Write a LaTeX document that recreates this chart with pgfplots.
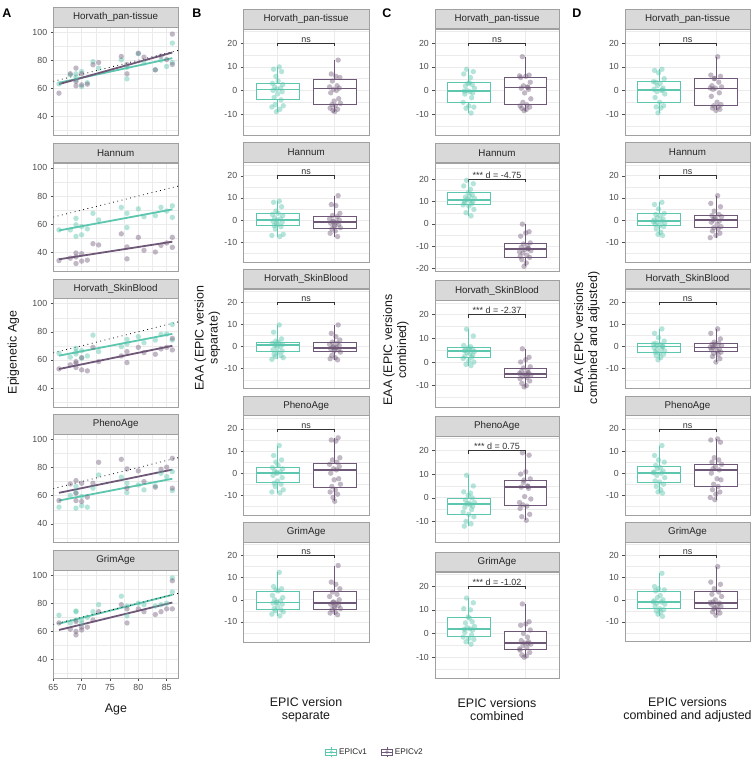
\documentclass[border=0pt]{standalone}
\usepackage{fontspec}
\setmainfont{Liberation Sans}
\usepackage{pgfplots}
\pgfplotsset{compat=1.18}
\usepackage{pgfplotstable}
\usepgfplotslibrary{statistics}

\definecolor{cT}{HTML}{5DC6AE}
\definecolor{cP}{HTML}{6F5877}
\definecolor{gridc}{HTML}{EBEBEB}
\definecolor{borderc}{HTML}{A0A0A0}
\definecolor{stripc}{HTML}{D9D9D9}
\definecolor{tickc}{HTML}{4D4D4D}
\definecolor{brc}{HTML}{333333}

\pgfplotsset{
  base/.style={scale only axis, anchor=south west, clip=true,
    axis line style={draw=borderc, line width=0.6pt},
    tick label style={font=\fontsize{8.8}{9}\selectfont, text=tickc},
    /pgf/number format/assume math mode=true,
    major tick length=2.6pt, minor tick length=0pt,
    tick align=outside, tick pos=left,
    every tick/.style={draw=tickc, line width=0.5pt},
    grid=both,
    major grid style={draw=gridc, line width=0.7pt},
    minor grid style={draw=gridc, line width=0.35pt},
    every axis title/.style={at={(0.5,1)}, anchor=south, fill=stripc, draw=borderc,
      line width=0.6pt, inner sep=0pt, minimum height=19.5pt,
      font=\fontsize{9.8}{10}\selectfont, text=black!85},
  },
  tw/.style={width=#1, every axis title/.append style={minimum width=#1}},
  aax/.style={base, tw=124.7pt, height=108.3pt, xmin=65, xmax=87, ymin=26.5, ymax=103.5,
    xtick={65,70,75,80,85}, minor xtick={67.5,72.5,77.5,82.5},
    ytick={40,60,80,100}, minor ytick={30,50,70,90}},
  noxlab/.style={xticklabels={}, xtick style={draw=none}},
  boxax/.style={base, xmin=0.4, xmax=2.6, xtick={1,2}, xticklabels={}, xtick style={draw=none},
    ymin=-19, ymax=26, ytick={-10,0,10,20}, minor ytick={-15,-5,5,15,25}},
  ptT/.style={only marks, mark=*, mark size=2.7pt, color=cT, mark options={draw opacity=0, fill opacity=0.45}},
  ptP/.style={only marks, mark=*, mark size=2.7pt, color=cP, mark options={draw opacity=0, fill opacity=0.42}},
  lnT/.style={cT, line width=1.8pt, no marks},
  lnP/.style={cP, line width=1.8pt, no marks},
  idl/.style={black, line width=0.8pt, dash pattern=on 0.8pt off 3.6pt, no marks},
  bxT/.style={boxplot prepared={draw position=1, box extend=0.75, whisker extend=0, draw direction=y, #1},
    draw=cT, fill=white, line width=0.75pt, solid, boxplot/every median/.style={line width=1.5pt}},
  bxP/.style={boxplot prepared={draw position=2, box extend=0.75, whisker extend=0, draw direction=y, #1},
    draw=cP, fill=white, line width=0.75pt, solid, boxplot/every median/.style={line width=1.5pt}},
  brk/.style={draw=brc, line width=0.7pt, no marks},
}
\tikzset{brlab/.style={anchor=south, inner sep=0.6pt, font=\fontsize{9}{9}\selectfont, text=brc},
  ytit/.style={rotate=90, align=center, font=\fontsize{12.4}{14}\selectfont, text=black!90},
  xtit/.style={align=center, font=\fontsize{12.4}{13}\selectfont, text=black!90},
  plab/.style={font=\bfseries\fontsize{12.5}{13}\selectfont}}

% ---------- EAA data: jitter x and values (t = EPICv1, p = EPICv2) ----------
% h = Horvath_pan-tissue, n = Hannum, s = Horvath_SkinBlood, p = PhenoAge, g = GrimAge
\pgfplotstableread{
jt   jp   ht   hp    nt   np   st   sp   pt   pp    gt   gp
1.03 2.06 10   12.9  8.5  11   9.8  9.8  12.5 16    12.4 15.5
0.93 1.94 9    7     8    7    6.5  6    8    15    6    8
1.07 2.02 8    6     6    6.5  3.5  4.5  6    14.5  5    7
0.97 2.09 6    5.5   4    3    2.5  3    5    7     4.5  5
1.01 1.96 4    4     3    2    2    2    3.5  6     4    3.5
0.91 2.04 3    2     2.5  1.5  1.5  1.5  2.5  5     2    2.5
1.09 1.91 2.5  1.5   2    0.5  1    1    2    4     1    1.5
0.95 2.08 1.5  1     1    0    0.5  0.5  1    3     0    0
1.05 1.98 1    0.5   0.5  -0.5 0    0    0.5  2     -0.5 -1
0.99 2.03 0.5  0     0    -1   -0.5 -0.5 0    1.5   -1   -1.5
0.92 1.93 0    -1    -0.5 -1.5 -1.5 -1   -1   0     -1.5 -2
1.08 2.07 -0.5 -3.5  -1   -2   -2   -1.5 -2   -2.5  -2   -2.5
1.00 1.99 -1.5 -4.5  -2   -3   -2.5 -2   -3.5 -3    -3   -3
0.94 2.10 -3   -5.5  -2.5 -3.5 -3.5 -2.5 -4.5 -5    -4   -4
1.06 1.95 -4   -6    -3   -4   -4   -4   -5   -6    -4.5 -4.5
0.96 2.01 -6   -6.5  -4   -5   -4.5 -5   -6   -7.5  -5   -5.5
1.10 1.92 -6.5 -7.5  -6.5 -6   -5   -5.5 -7.5 -8.5  -5.5 -6
0.90 2.05 -7   -8    -7   -7.5 -5.8 -6   -8.5 -9.5  -6.5 -6.8
1.04 1.97 -8   -8.5  -7.5 -0.8 1.2  -0.3 -8.9 -11   -7.3 -1.2
0.98 2.00 -9   -9    -1.5 -2.5 0.8  -0.8 0.3  -12.7 -1.2 -3.5
}\Bdata
\pgfplotstableread{
jt   jp   ht   hp    nt    np    st    sp    pt    pp    gt    gp
0.96 1.95 9    14.3  19.5  -0.1  13.9  5.6   9.5   19    15    12.5
1.08 2.07 8    6.5   18    -3.5  11    2     5     18    13    5
0.91 2.01 7    6     17    -4    7     1     2.5   11    10.5  4
1.03 1.92 5.5  5.5   15.5  -5.5  6.5   0     2     10    10    3.5
0.99 2.09 3    3.5   14    -8.5  6     -2    1     8     7     1.5
1.06 1.97 2.5  2     13    -9    5.5   -2.5  0     6.5   5     0
0.94 2.04 2    1.5   12    -10   5     -3.5  -1    5     4.5   -1.5
1.10 1.93 1    1     11.5  -10.5 4.5   -4    -2    4.5   3     -3
0.97 2.06 0    0.5   11    -11   4     -4.5  -2.5  4     2.5   -3.5
1.02 1.99 -0.5 -1    10.5  -11.5 3.5   -5    -3    0.5   2     -4
1.07 2.10 -1   -3.5  10    -12   3     -5.5  -3.5  -0.5  1.5   -4.5
0.93 1.96 -1.5 -5    9.5   -13   2.5   -6    -4    -3    0.5   -5
1.05 2.03 -3   -6    9     -14   2     -6.5  -5    -3.5  -0.5  -6
0.90 1.91 -5   -6.5  8.5   -14.5 1.5   -7    -6    -4.5  -1.5  -7
1.00 2.08 -6.5 -7    8     -15   0.5   -8    -7    -7    -2    -8
1.09 1.94 -7   -7.5  6.5   -16   0     -9    -8    -8    -2.5  -9
0.95 2.02 -7.5 -8    5     -17.5 -1    -10   -10   -9.5  -3.5  -9.5
1.04 1.98 -9.5 -8.5  3.6   -19   -1.5  -10.5 -11   7.5   -4.5  -10
0.92 2.05 -0.2 1.3   10.2  -11.2 4.8   -5.2  -12   4.8   1.8   -4.2
1.01 1.90 3.3  6.2   12.5  -12.5 5.2   -4.8  -2.2  -2    6.5   -6.5
}\Cdata
\pgfplotstableread{
jt   jp   ht   hp    nt   np   st   sp   pt   pp    gt   gp
1.05 2.03 9    14.3  8    11   8    8    12.5 15.5  12   15
0.92 1.91 8.5  6.5   7    7.5  6    6    8    15    6    8
0.99 2.08 7.5  6     5    6    4    3.5  6    14    5    7
1.09 1.97 5    5     3    4    2.5  2    5    7     4.5  5
0.94 2.05 3.5  3.5   2.5  2.5  1.5  1.5  3.5  6     4    3.5
1.02 1.93 3    2     2    2    1    1    2.5  5     2    2.5
0.97 2.10 2    1.5   1    1.5  0.5  0.5  2    4     1    1.5
1.07 1.99 1    1     0.5  0.5  0    0    1    3     0    0
0.91 1.95 0.5  0.5   0    0    -0.5 -0.5 0.5  2     -0.5 -1
1.04 2.06 0    -1    -0.5 -0.5 -1   -1   0    1.5   -1   -1.5
0.96 1.92 -0.5 -2.5  -1   -1   -1.5 -1.5 -1   0     -1.5 -2
1.10 2.02 -1.5 -5    -1.5 -2   -2   -2   -2   -2.5  -2   -2.5
0.93 2.09 -3   -6    -2   -3   -2.5 -2.5 -3.5 -3    -3   -3
1.01 1.96 -5   -6.5  -2.5 -3.5 -3   -3   -4   -5    -4   -4
1.08 2.04 -6.5 -7    -3   -4   -3.5 -3.5 -5   -6    -4.5 -4.5
0.95 1.94 -7   -7.5  -4   -5   -4   -4.5 -6   -7.5  -5   -5.5
1.03 2.07 -7.5 -8    -5.5 -6   -5   -5.5 -7.5 -8.5  -5.5 -6
0.98 2.00 -9.5 -8.5  -6.5 -7   -6   -7   -8.5 -9.5  -6.5 -7
1.06 1.90 0.2  1     -7   -8   0.2  -0.3 -9   -11   -7.5 -1.2
0.90 1.98 3.7  5.1   -0.8 1    1.2  1    0.2  -12   -1   -3.5
}\Ddata

% box panel: #1 axis options, #2 bracket label, #3 EPICv1 stats, #4 EPICv2 stats, #5 table, #6 clock key
\newcommand{\BP}[6]{%
\begin{axis}[boxax,#1]
\addplot[bxT={#3}] coordinates {};
\addplot[bxP={#4}] coordinates {};
\addplot[ptT] table[x=jt, y=#6t] {#5};
\addplot[ptP] table[x=jp, y=#6p] {#5};
\addplot[brk] coordinates {(1,18.7) (1,20) (2,20) (2,18.7)};
\node[brlab] at (axis cs:1.5,20) {#2};
\end{axis}}

% age panel: #1 axis options, #2 EPICv1 points, #3 EPICv2 points, #4 EPICv1 fit, #5 EPICv2 fit
\newcommand{\AP}[5]{%
\begin{axis}[aax,#1]
\addplot[ptT] coordinates {#2};
\addplot[ptP] coordinates {#3};
\addplot[lnT] coordinates {#4};
\addplot[lnP] coordinates {#5};
\addplot[idl] coordinates {(65,65) (87,87)};
\end{axis}}

\begin{document}
\begin{tikzpicture}[x=1pt,y=1pt]
\path[use as bounding box, fill=white] (0,0) rectangle (755,764);

% ================= Column A =================
\AP{at={(53.3pt,628.5pt)}, noxlab, title={Horvath\_pan-tissue}}
{(66,63.2) (68,69.6) (69,70.4) (69,66) (69,68) (70,72) (70,61.3) (71,64) (72,79) (73,74.4) (77,80.3) (78,66.8) (78,75) (80,84.6) (81,78) (83,73.2) (84,80) (85,75.6) (86,92.2) (86,78.4)}
{(66,56.6) (68,70.4) (69,74.4) (69,61.8) (69,64.9) (70,70.4) (70,62.5) (71,63) (72,76.8) (73,78.4) (77,82.7) (78,70.4) (78,77) (80,85) (81,82.2) (83,73.2) (84,83) (85,80.5) (86,98.6) (86,77)}
{(66,64) (86,81.5)}{(66,63) (86,85.5)}

\AP{at={(53.3pt,492.75pt)}, noxlab, title={Hannum}}
{(66,55.9) (68,55.9) (69,64.1) (69,59.5) (69,51.3) (70,58.3) (70,52.4) (71,56.6) (72,67.7) (73,63) (77,71.9) (78,67.7) (78,57.6) (80,70.9) (81,65.3) (83,66) (84,71.9) (85,69.3) (86,73) (86,64.8)}
{(66,34.1) (68,35.8) (69,39.5) (69,36.7) (69,32) (70,39) (70,33.7) (71,34.4) (72,46.1) (73,45.2) (77,53.1) (78,35.3) (78,43.8) (80,50.6) (81,41.4) (83,40.2) (84,44.9) (85,46.6) (86,50.6) (86,43.5)}
{(66,55.5) (86,70.5)}{(66,35) (86,47.5)}

\AP{at={(53.3pt,357pt)}, noxlab, title={Horvath\_SkinBlood}}
{(66,64.7) (68,61.9) (69,68.2) (69,64.2) (69,65.9) (70,66.6) (70,61.2) (71,62.8) (72,77.6) (73,65.9) (77,69.4) (78,74.6) (78,71.3) (80,76.5) (81,72.2) (83,74.1) (84,78.1) (85,78.4) (86,85.2) (86,74.1)}
{(66,53.6) (68,56.5) (69,58.8) (69,54.6) (69,57.6) (70,61.6) (70,52.9) (71,52.2) (72,68.9) (73,58.8) (77,62.8) (78,58.1) (78,65.9) (80,68.9) (81,65.2) (83,64) (84,67.8) (85,68.9) (86,75.3) (86,67.1)}
{(66,63) (86,78.5)}{(66,53.5) (86,70)}

\AP{at={(53.3pt,221.25pt)}, noxlab, title={PhenoAge}}
{(66,51.8) (68,60.1) (69,51.1) (69,62.2) (69,66.5) (70,59.4) (70,52.8) (71,51.8) (72,65.3) (73,74.7) (77,73.1) (78,62.2) (78,68.8) (80,67.6) (81,64.1) (83,66.9) (84,75.9) (85,73.5) (86,77.1) (86,63.6)}
{(66,56.5) (68,68.3) (69,70.7) (69,61.7) (69,56.5) (70,68.8) (70,55.8) (71,58.9) (72,68.8) (73,83.7) (77,85.8) (78,79) (78,65.3) (80,77.6) (81,70) (83,66) (84,78.7) (85,80.2) (86,86.5) (86,65.3)}
{(66,56.5) (86,72)}{(66,62) (86,78.5)}

\AP{at={(53.3pt,85.5pt)}, title={GrimAge}}
{(66,71.5) (68,66) (69,74.5) (69,68) (69,74) (70,66) (70,68) (71,70) (72,74) (73,79) (77,85) (78,71) (78,78) (80,80) (81,79) (83,78) (84,79) (85,80) (86,98) (86,88)}
{(66,66) (68,61.5) (69,57.5) (69,60) (69,67) (70,61) (70,63) (71,63) (72,68) (73,74) (77,79) (78,66) (78,76) (80,76) (81,74) (83,72) (84,74) (85,76) (86,96) (86,76)}
{(66,65.5) (86,86)}{(66,61) (86,80.5)}

% ================= Column B =================
\BP{at={(243.3pt,628.8pt)}, tw=125.7pt, height=106pt, title={Horvath\_pan-tissue}}{ns}
{median=0.5, upper quartile=3, lower quartile=-3.8, upper whisker=10, lower whisker=-9}
{median=0.9, upper quartile=4.9, lower quartile=-5.8, upper whisker=12.9, lower whisker=-9}{\Bdata}{h}
\BP{at={(243.3pt,502pt)}, tw=125.7pt, height=99.5pt, title={Hannum}}{ns}
{median=0.05, upper quartile=3.05, lower quartile=-2.5, upper whisker=8.5, lower whisker=-7.5}
{median=-1, upper quartile=1.85, lower quartile=-3.7, upper whisker=11, lower whisker=-7.5}{\Bdata}{n}
\BP{at={(243.3pt,375.4pt)}, tw=125.7pt, height=99.5pt, title={Horvath\_SkinBlood}}{ns}
{median=0.75, upper quartile=2, lower quartile=-2, upper whisker=9.8, lower whisker=-5.8}
{median=-0.6, upper quartile=1.8, lower quartile=-2, upper whisker=9.8, lower whisker=-6}{\Bdata}{s}
\BP{at={(243.3pt,248.8pt)}, tw=125.7pt, height=99.5pt, title={PhenoAge}}{ns}
{median=0.05, upper quartile=2.75, lower quartile=-4.15, upper whisker=12.5, lower whisker=-8.9}
{median=1.55, upper quartile=4.55, lower quartile=-6.25, upper whisker=16, lower whisker=-12.7}{\Bdata}{p}
\begin{axis}[boxax, at={(243.3pt,122.2pt)}, tw=125.7pt, height=99.5pt, title={GrimAge},
  legend style={at={(1.048,-1.1075)}, anchor=center, draw=none, fill=none,
    font=\fontsize{8.2}{8.5}\selectfont, text=black!85, inner sep=0pt,
    /tikz/every even column/.append style={column sep=12pt}},
  legend columns=2, legend cell align=left]
\addlegendimage{legend image code/.code={
  \draw[cT, line width=0.6pt] (5.5pt,-5pt)--(5.5pt,5pt);
  \draw[cT, line width=0.6pt, fill=white] (0pt,-2.8pt) rectangle (11pt,2.8pt);
  \draw[cT, line width=0.9pt] (0pt,0pt)--(11pt,0pt);
  \fill[cT, opacity=0.5] (5.5pt,0pt) circle (1.6pt);}}
\addlegendentry{EPICv1}
\addlegendimage{legend image code/.code={
  \draw[cP, line width=0.6pt] (5.5pt,-5pt)--(5.5pt,5pt);
  \draw[cP, line width=0.6pt, fill=white] (0pt,-2.8pt) rectangle (11pt,2.8pt);
  \draw[cP, line width=0.9pt] (0pt,0pt)--(11pt,0pt);
  \fill[cP, opacity=0.5] (5.5pt,0pt) circle (1.6pt);}}
\addlegendentry{EPICv2}
\addplot[bxT={median=-1.2, upper quartile=3.8, lower quartile=-4.2, upper whisker=12.4, lower whisker=-7.3}] coordinates {};
\addplot[bxP={median=-1.5, upper quartile=3.6, lower quartile=-4.2, upper whisker=15.5, lower whisker=-6.8}] coordinates {};
\addplot[ptT] table[x=jt, y=gt] {\Bdata};
\addplot[ptP] table[x=jp, y=gp] {\Bdata};
\addplot[brk] coordinates {(1,18.7) (1,20) (2,20) (2,18.7)};
\node[brlab] at (axis cs:1.5,20) {ns};
\end{axis}

% ================= Column C =================
\BP{at={(435pt,628.5pt)}, tw=124pt, height=106.5pt, title={Horvath\_pan-tissue}}{ns}
{median=-0.1, upper quartile=3.3, lower quartile=-5.2, upper whisker=9, lower whisker=-9.5}
{median=1.3, upper quartile=5.6, lower quartile=-6, upper whisker=14.3, lower whisker=-8.5}{\Cdata}{h}
\BP{at={(435pt,492.75pt)}, tw=124pt, height=108.3pt, title={Hannum}, ymin=-21.2, ymax=27.3, ytick={-20,-10,0,10,20}}{*** d = -4.75}
{median=10.6, upper quartile=14, lower quartile=8.7, upper whisker=19.5, lower whisker=3.6}
{median=-11.3, upper quartile=-8.8, lower quartile=-15.2, upper whisker=-0.1, lower whisker=-19}{\Cdata}{n}
\BP{at={(435pt,357pt)}, tw=124pt, height=106.5pt, title={Horvath\_SkinBlood}}{*** d = -2.37}
{median=4.7, upper quartile=6.1, lower quartile=2, upper whisker=13.9, lower whisker=-1.5}
{median=-5.05, upper quartile=-2.6, lower quartile=-6.6, upper whisker=5.6, lower whisker=-10.5}{\Cdata}{s}
\BP{at={(435pt,221.25pt)}, tw=124pt, height=106.5pt, title={PhenoAge}}{*** d = 0.75}
{median=-2.6, upper quartile=-0.1, lower quartile=-7, upper whisker=9.5, lower whisker=-12}
{median=4.6, upper quartile=7.4, lower quartile=-3.2, upper whisker=19, lower whisker=-9.5}{\Cdata}{p}
\BP{at={(435pt,85.5pt)}, tw=124pt, height=106.5pt, title={GrimAge}}{*** d = -1.02}
{median=2, upper quartile=7, lower quartile=-1.4, upper whisker=15, lower whisker=-4.5}
{median=-4.05, upper quartile=0.9, lower quartile=-6.9, upper whisker=12.5, lower whisker=-10}{\Cdata}{g}

% ================= Column D =================
\BP{at={(625pt,628.8pt)}, tw=125pt, height=106pt, title={Horvath\_pan-tissue}}{ns}
{median=0.2, upper quartile=3.7, lower quartile=-5, upper whisker=9, lower whisker=-9.5}
{median=0.9, upper quartile=5.1, lower quartile=-6.5, upper whisker=14.3, lower whisker=-8.5}{\Ddata}{h}
\BP{at={(625pt,502pt)}, tw=125pt, height=99.5pt, title={Hannum}}{ns}
{median=-0.5, upper quartile=2.8, lower quartile=-2.3, upper whisker=8, lower whisker=-7}
{median=0, upper quartile=2.2, lower quartile=-3.5, upper whisker=11, lower whisker=-8}{\Ddata}{n}
\BP{at={(625pt,375.4pt)}, tw=125pt, height=99.5pt, title={Horvath\_SkinBlood}}{ns}
{median=0, upper quartile=1.5, lower quartile=-2.5, upper whisker=8, lower whisker=-6}
{median=-0.5, upper quartile=1.5, lower quartile=-2, upper whisker=8, lower whisker=-7}{\Ddata}{s}
\BP{at={(625pt,248.8pt)}, tw=125pt, height=99.5pt, title={PhenoAge}}{ns}
{median=0, upper quartile=3, lower quartile=-4, upper whisker=12.5, lower whisker=-9}
{median=1.5, upper quartile=4, lower quartile=-6, upper whisker=15.5, lower whisker=-12}{\Ddata}{p}
\BP{at={(625pt,122.2pt)}, tw=125pt, height=99.5pt, title={GrimAge}}{ns}
{median=-1, upper quartile=4, lower quartile=-4, upper whisker=12, lower whisker=-7.5}
{median=-1.5, upper quartile=4, lower quartile=-4, upper whisker=15, lower whisker=-7}{\Ddata}{g}

% ================= titles and labels =================
\node[ytit] at (13.3,411.5) {Epigenetic Age};
\node[xtit] at (116,54) {Age};
\node[ytit] at (207.5,426) {EAA (EPIC version\\separate)};
\node[ytit] at (396,414) {EAA (EPIC versions\\combined)};
\node[ytit] at (587,426) {EAA (EPIC versions\\combined and adjusted)};
\node[xtit] at (306,54) {EPIC version\\separate};
\node[xtit] at (497,54) {EPIC versions\\combined};
\node[xtit] at (687.5,54) {EPIC versions\\combined and adjusted};
\node[plab] at (7,751) {A};
\node[plab] at (197,751) {B};
\node[plab] at (387,751) {C};
\node[plab] at (577,751) {D};
\end{tikzpicture}
\end{document}
